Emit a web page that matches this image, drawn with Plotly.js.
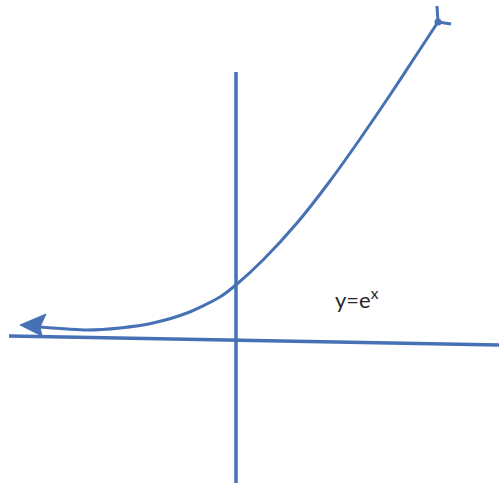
<!DOCTYPE html>
<html>
<head>
<meta charset="utf-8">
<script src="https://cdn.plot.ly/plotly-3.0.1.min.js"></script>
<style>
  html, body { margin: 0; padding: 0; background: #ffffff; }
  #chart { width: 499px; height: 483px; }
</style>
</head>
<body>
<div id="chart"></div>
<script>
// Sketch of y = e^x, one unit = 50 px, origin at the axes crossing.
const curveX = [-3.92, -2.98, -2.32, -1.66, -0.98, -0.32, 0.02, 0.54, 1.22, 1.88, 2.48, 3.08, 3.58, 4.04];
const curveY = [ 0.26,  0.20,  0.24,  0.34,  0.54,  0.86, 1.12, 1.60, 2.34, 3.18, 4.02, 4.90, 5.66, 6.36];

// Filled arrowhead at the left end of the curve
const leftHeadX = [-4.32, -3.80, -3.92, -3.88, -4.32];
const leftHeadY = [ 0.30,  0.52,  0.26,  0.08,  0.30];

// Open arrowhead prongs at the upper end of the curve
const rightHeadX = [4.02, 4.04, 4.30];
const rightHeadY = [6.68, 6.36, 6.32];

// Hand-drawn axes
const hAxisX = [-4.54, 5.30];
const hAxisY = [ 0.08, -0.10];
const vAxisX = [0, 0];
const vAxisY = [5.36, -3.0];

const labelText = 'y=e<sup>x</sup>';
const labelPos = [1.94, 0.84];

const blue = '#4671b5';

const traces = [
  { x: hAxisX, y: hAxisY, mode: 'lines', line: { color: blue, width: 3.5 }, hoverinfo: 'skip' },
  { x: vAxisX, y: vAxisY, mode: 'lines', line: { color: blue, width: 3.5 }, hoverinfo: 'skip' },
  { x: curveX, y: curveY, mode: 'lines', line: { color: blue, width: 3, shape: 'spline', smoothing: 0.7 }, hoverinfo: 'skip' },
  { x: leftHeadX, y: leftHeadY, mode: 'lines', fill: 'toself', fillcolor: blue, line: { color: blue, width: 1 }, hoverinfo: 'skip' },
  { x: rightHeadX, y: rightHeadY, mode: 'lines', line: { color: blue, width: 3 }, hoverinfo: 'skip' },
  { x: [rightHeadX[1]], y: [rightHeadY[1]], mode: 'markers', marker: { color: blue, size: 7, symbol: 'circle' }, hoverinfo: 'skip' }
];

const layout = {
  width: 499,
  height: 483,
  margin: { l: 0, r: 0, t: 0, b: 0 },
  paper_bgcolor: '#ffffff',
  plot_bgcolor: '#ffffff',
  showlegend: false,
  xaxis: { range: [-4.72, 5.26], visible: false, fixedrange: true },
  yaxis: { range: [-2.86, 6.8], visible: false, fixedrange: true },
  annotations: [{
    x: labelPos[0], y: labelPos[1], xref: 'x', yref: 'y',
    xanchor: 'left', yanchor: 'middle',
    text: labelText, showarrow: false,
    font: { family: 'Lato, "Open Sans", sans-serif', size: 22, color: '#262626' }
  }]
};

Plotly.newPlot('chart', traces, layout, { staticPlot: true, displayModeBar: false });
</script>
</body>
</html>
